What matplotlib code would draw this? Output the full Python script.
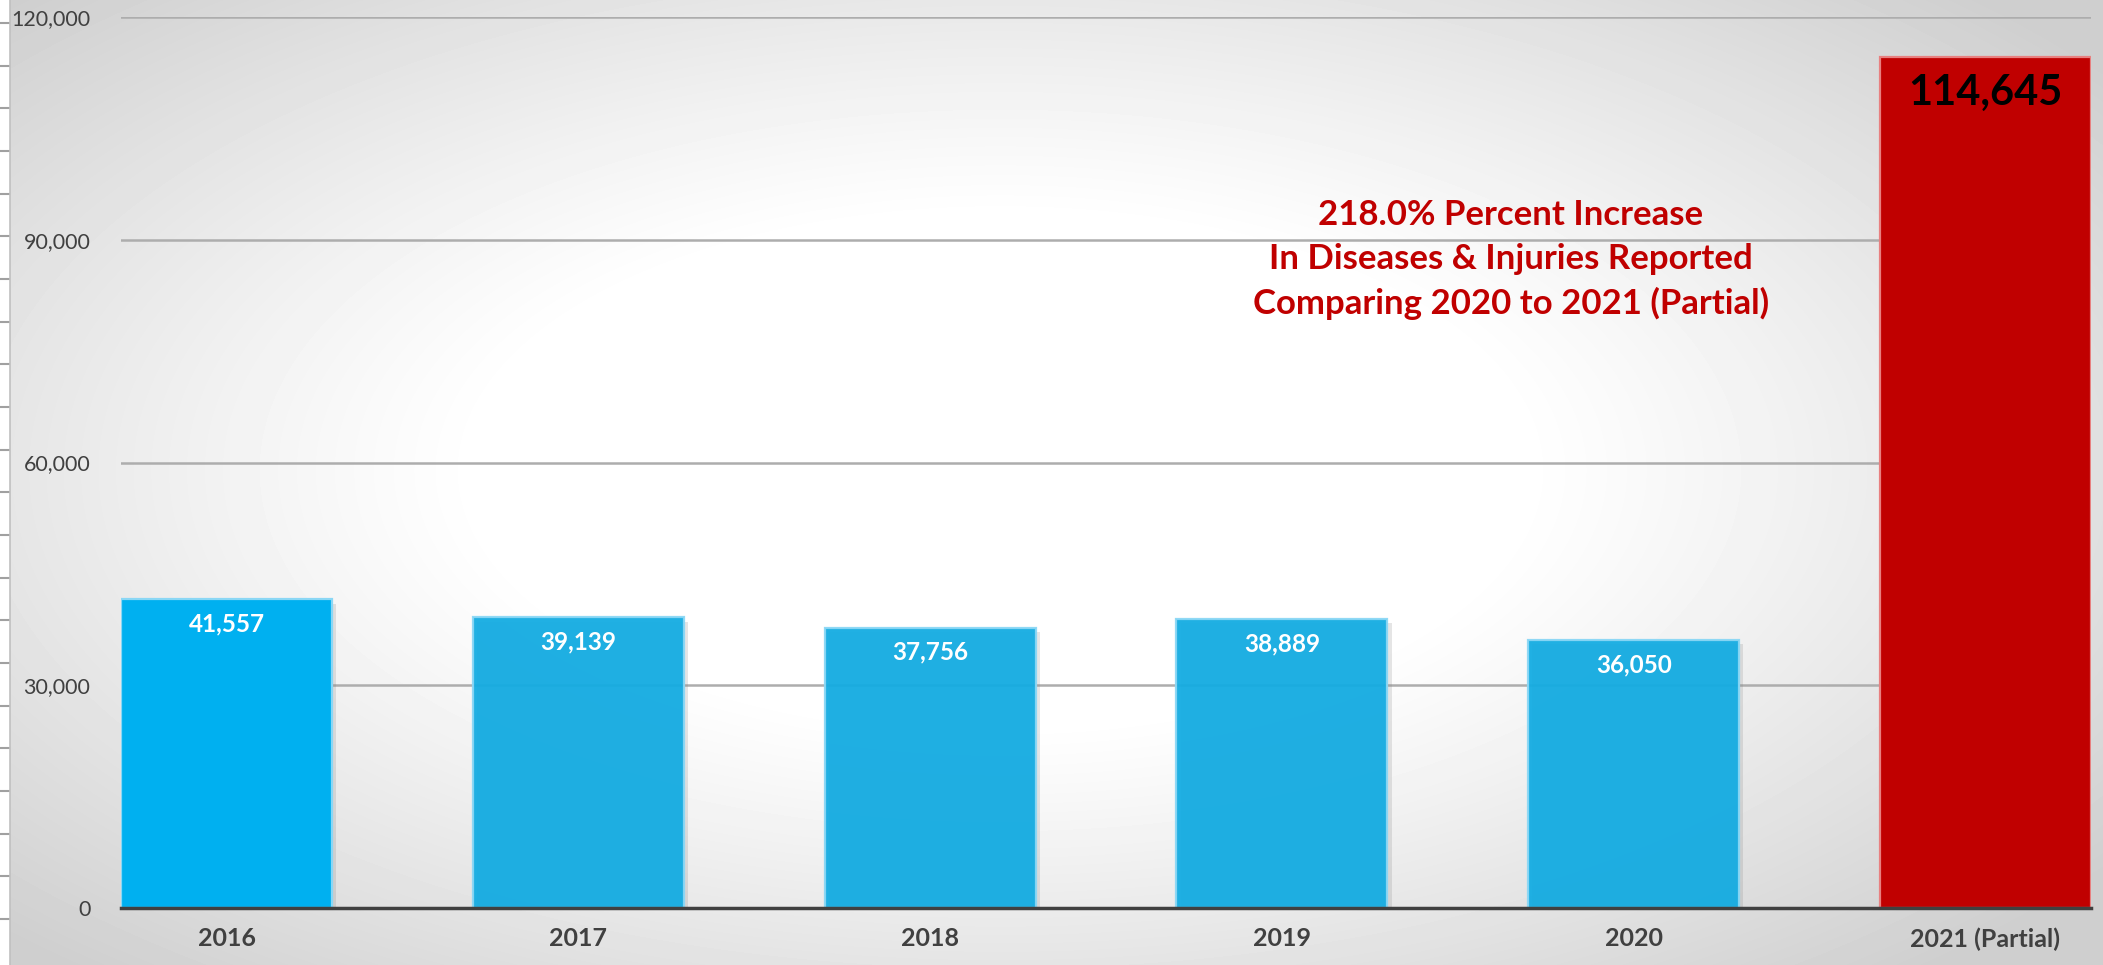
import matplotlib.pyplot as plt
import matplotlib.patheffects as pe
import numpy as np

years = ["2016", "2017", "2018", "2019", "2020", "2021 (Partial)"]
cases = [41557, 39139, 37756, 38889, 36050, 114645]
value_labels = ["41,557", "39,139", "37,756", "38,889", "36,050", "114,645"]
note_lines = ["218.0% Percent Increase",
              "In Diseases & Injuries Reported",
              "Comparing 2020 to 2021 (Partial)"]

plt.rcParams['font.family'] = ['Lato', 'DejaVu Sans']

W, H = 2103, 965
fig = plt.figure(figsize=(W / 100, H / 100), dpi=100)
fig.patch.set_facecolor('white')

# radial grey backdrop (Excel style)
bg = fig.add_axes([10 / W, 0, 1 - 10 / W, 1], zorder=-10)
yy, xx = np.mgrid[0:H, 10:W]
r = np.sqrt(((xx - 1000) / 1150.0) ** 2 + ((yy - 470) / 560.0) ** 2)
v = 1 - 0.19 * np.clip((r - 0.45) / 0.75, 0, 1) ** 1.1
bg.imshow(v, cmap='gray', vmin=0, vmax=1, aspect='auto',
          extent=[10, W, H, 0], interpolation='bilinear')
bg.set_xlim(10, W)
bg.set_ylim(H, 0)
bg.set_xticks([])
bg.set_yticks(np.linspace(23, 919, 22))
bg.set_yticklabels([])
bg.tick_params(axis='y', length=7.5, width=1.5, color='#a0a0a0', direction='out')
for s in ['top', 'right', 'bottom']:
    bg.spines[s].set_visible(False)
bg.spines['left'].set_color('#c0c0c0')
bg.spines['left'].set_linewidth(1.2)

ax = fig.add_axes([121 / W, (H - 908) / H, (2091 - 121) / W, (908 - 17) / H])
ax.patch.set_alpha(0)

x = np.arange(len(years))
face = ['#00B0F0', '#14ACE2', '#14ACE2', '#14ACE2', '#14ACE2', '#C00000']
edge = ['#8AD7F5', '#8AD7F5', '#8AD7F5', '#8AD7F5', '#8AD7F5', '#E88080']
alpha = [1, 0.95, 0.95, 0.95, 0.95, 1]
shadow = [pe.SimplePatchShadow(offset=(3, -3), shadow_rgbFace='#808080', alpha=0.2), pe.Normal()]
for i in range(len(years)):
    b = ax.bar(x[i], cases[i], width=0.6, color=face[i], edgecolor=edge[i],
               linewidth=1.6, alpha=alpha[i], zorder=3)
    b[0].set_path_effects(shadow)

for i in range(len(years) - 1):
    ax.annotate(value_labels[i], (x[i], cases[i]), xytext=(0, -17.5), textcoords='offset points',
                ha='center', va='center', color='white', fontsize=17.5, fontweight='bold', zorder=5)
ax.annotate(value_labels[-1], (x[-1], cases[-1]), xytext=(0, -26), textcoords='offset points',
            ha='center', va='center', color='black', fontsize=30, fontweight='bold', zorder=5)

ax.text(0.7056, 0.728, "\n".join(note_lines), transform=ax.transAxes, ha='center', va='center',
        color='#C00000', fontsize=25, fontweight='bold', linespacing=1.45, zorder=5)

ax.set_xlim(-0.3, 5.3)
ax.set_ylim(0, 120000)
ax.set_yticks([0, 30000, 60000, 90000, 120000])
ax.set_yticklabels(["0", "30,000", "60,000", "90,000", "120,000"])
ax.set_xticks(x)
ax.set_xticklabels(years, fontweight='bold')
ax.tick_params(axis='y', length=0, pad=22, labelsize=15.5, labelcolor='#404040')
ax.tick_params(axis='x', length=0, pad=14, labelsize=18, labelcolor='#404040')
ax.yaxis.grid(True, color='#adadad', linewidth=1.8, zorder=0)
ax.set_axisbelow(True)
for s in ['top', 'right', 'left']:
    ax.spines[s].set_visible(False)
ax.spines['bottom'].set_color('#404040')
ax.spines['bottom'].set_linewidth(2.5)
ax.spines['bottom'].set_zorder(4)

fig.savefig('out.png', dpi=100)
